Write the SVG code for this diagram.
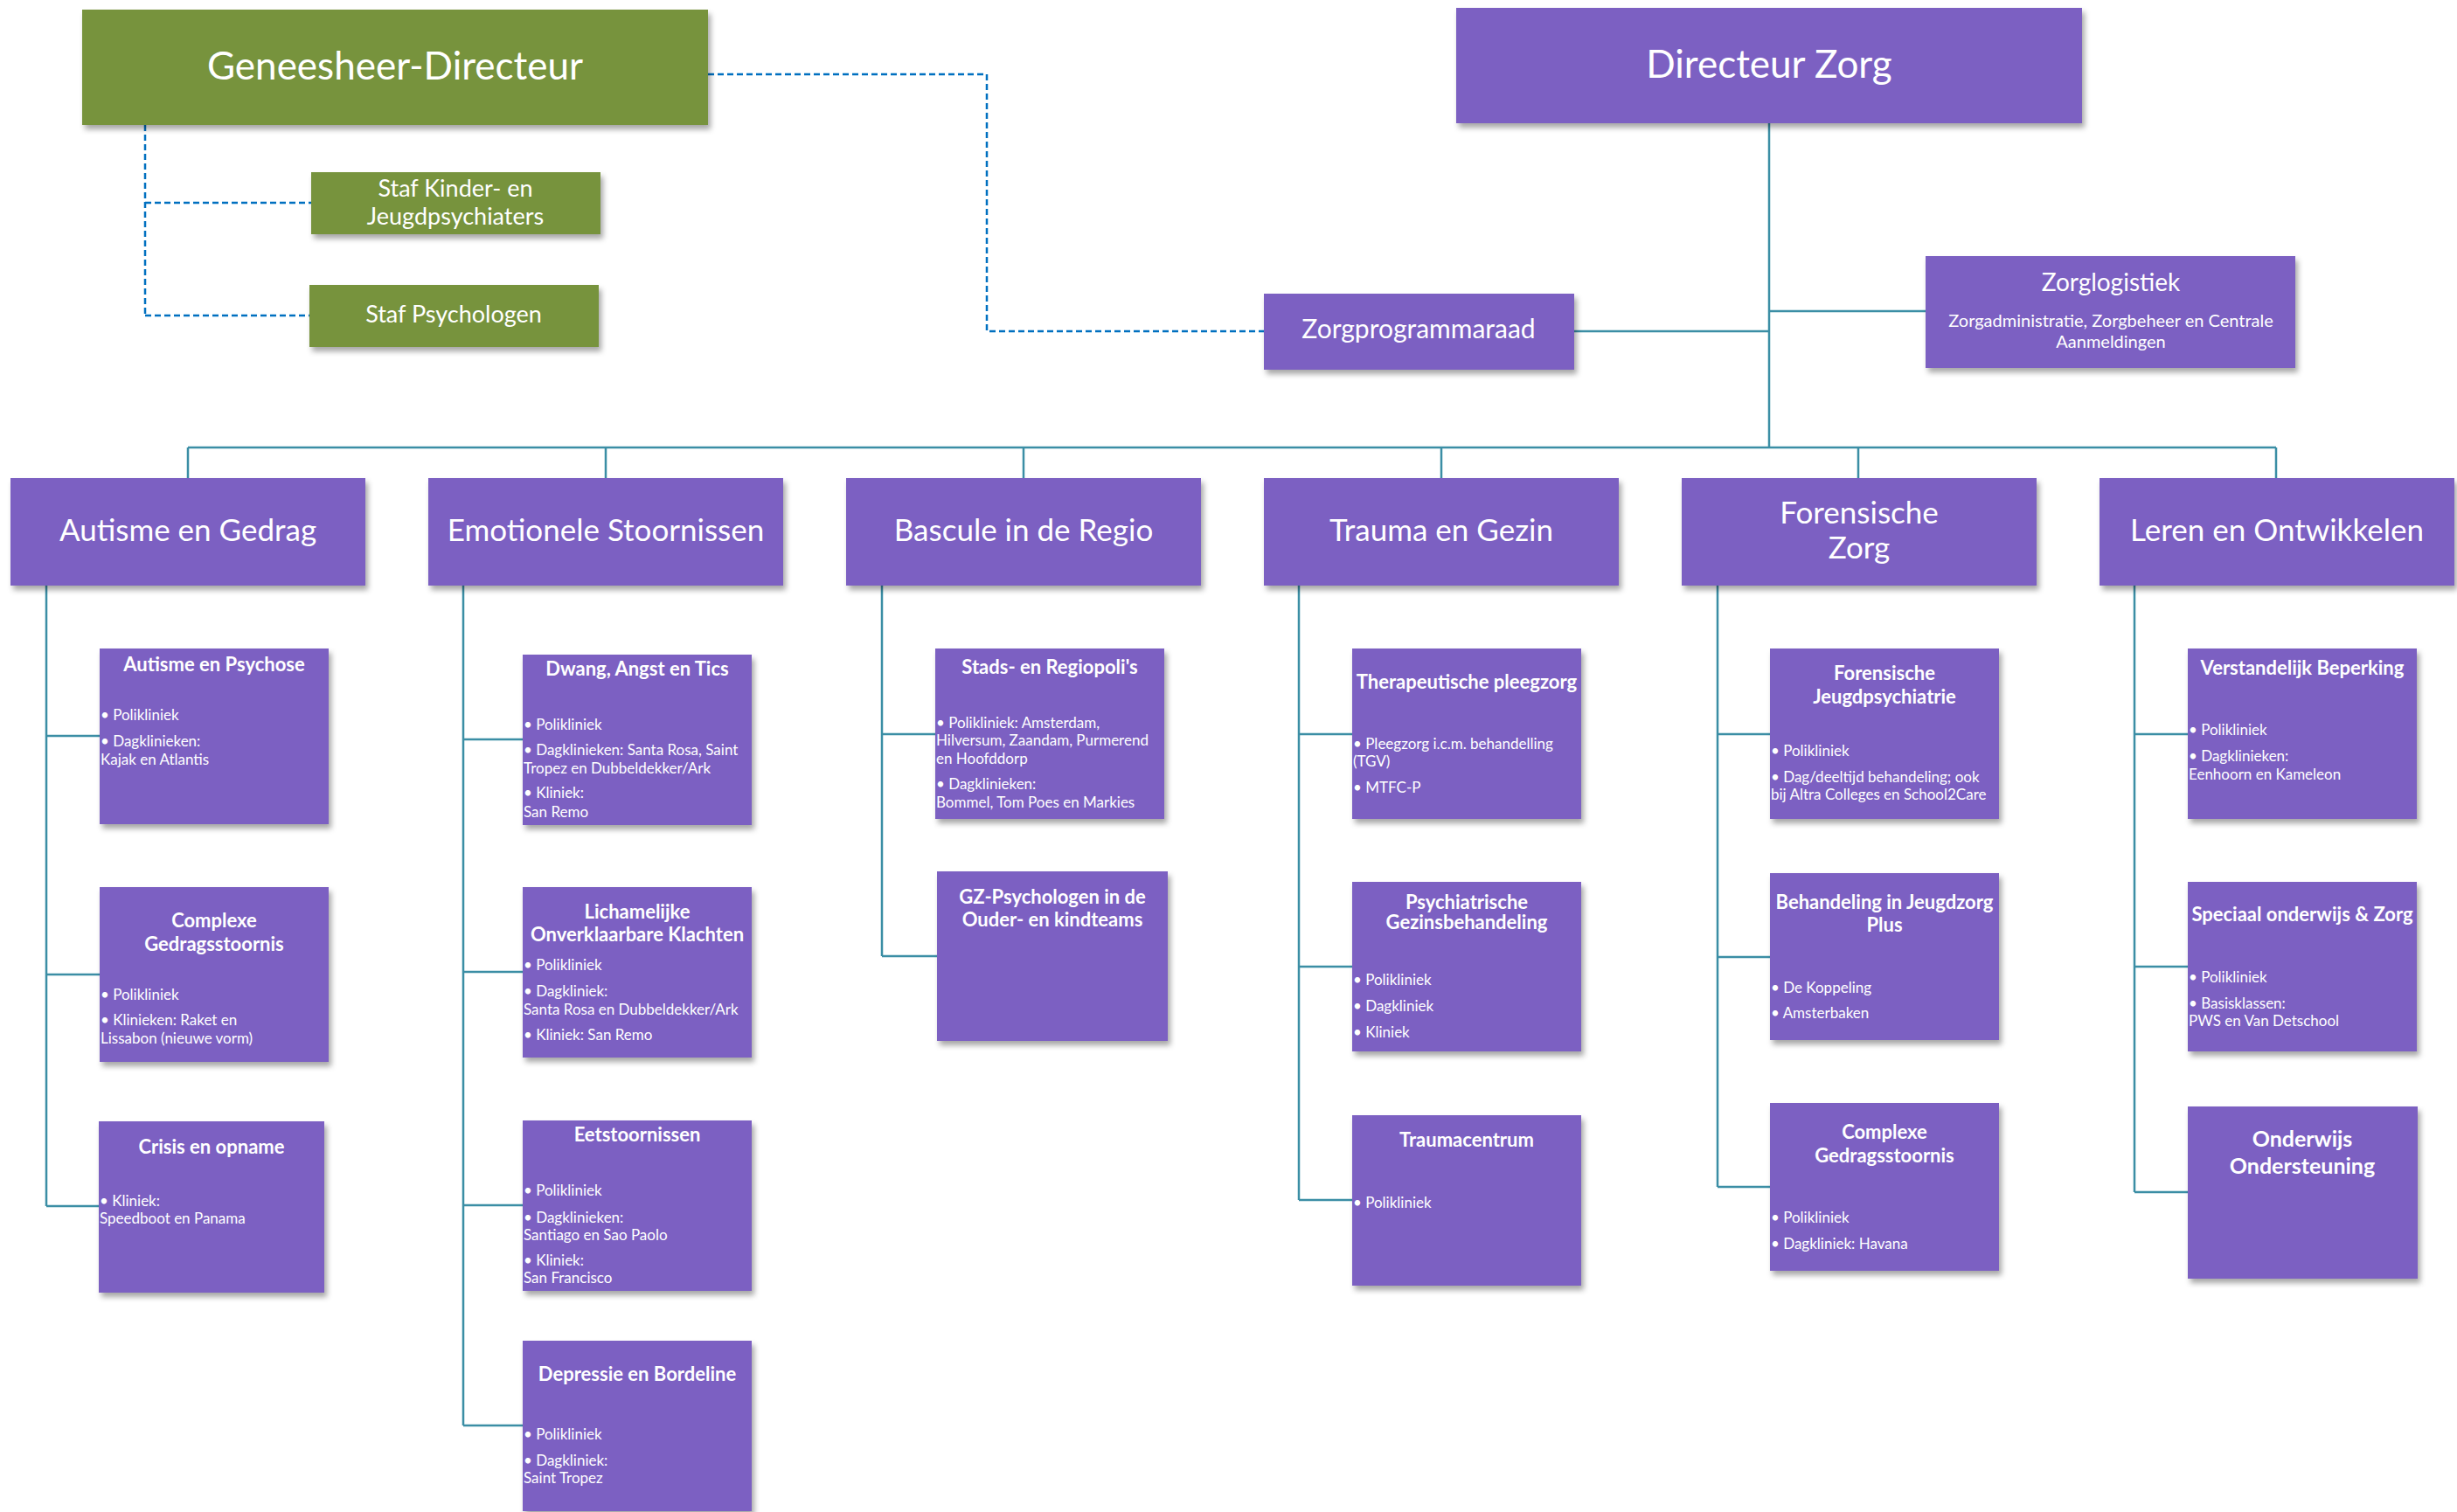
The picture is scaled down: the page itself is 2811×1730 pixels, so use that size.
<svg xmlns="http://www.w3.org/2000/svg" width="2811" height="1730" viewBox="0 0 2811 1730">
<defs>
<filter id="sh" x="-10%" y="-10%" width="125%" height="130%">
<feDropShadow dx="3" dy="5" stdDeviation="3" flood-color="#000" flood-opacity="0.35"/>
</filter>
<style>
.g{fill:#77933C;filter:url(#sh)}
.p{fill:#7B61C2;filter:url(#sh)}
text{font-family:Lato,"Open Sans","Liberation Sans",sans-serif;fill:#fff}
.c{text-anchor:middle}
.big{font-size:44px}
.staf{font-size:27px}
.mid{font-size:29px}
.small{font-size:20px}
.div{font-size:35px}
.st{font-size:22px;font-weight:bold;text-anchor:middle}
.b{font-size:17px}
.sol{stroke:#3B8EA5;stroke-width:2.5;fill:none}
.dash{stroke:#0070C0;stroke-width:2.5;fill:none;stroke-dasharray:7 4}
</style>
</defs>
<rect width="2811" height="1730" fill="#fff"/>
<g id="connectors">
<path class="dash" d="M166 143V361M166 232H356M166 361H354M810 85H1129V379H1446"/>
<path class="sol" d="M2024 141V512M1801 379H2024M2024 356H2203M215 512H2604M215 512V547M693 512V547M1171 512V547M1649 512V547M2126 512V547M2604 512V547"/>
<path class="sol" d="M53 670V1380M53 842H114M53 1115H114M53 1380H113"/>
<path class="sol" d="M530 670V1631M530 846H598M530 1112H598M530 1379H598M530 1631H598"/>
<path class="sol" d="M1009 670V1094M1009 840H1070M1009 1094H1072"/>
<path class="sol" d="M1486 670V1373M1486 840H1547M1486 1106H1547M1486 1373H1547"/>
<path class="sol" d="M1965 670V1358M1965 840H2025M1965 1095H2025M1965 1358H2025"/>
<path class="sol" d="M2442 670V1364M2442 840H2503M2442 1106H2503M2442 1364H2503"/>
</g>
<g id="geneesheer"><rect class="g" x="94" y="11" width="716" height="132"/><text class="c big" x="452" y="91">Geneesheer-Directeur</text></g>
<g id="staf-kinder"><rect class="g" x="356" y="197" width="331" height="71"/><text class="c staf" x="521" y="225">Staf Kinder- en</text><text class="c staf" x="521" y="257">Jeugdpsychiaters</text></g>
<g id="staf-psych"><rect class="g" x="354" y="326" width="331" height="71"/><text class="c staf" x="519" y="369">Staf Psychologen</text></g>
<g id="directeur-zorg"><rect class="p" x="1666" y="9" width="716" height="132"/><text class="c big" x="2024" y="89">Directeur Zorg</text></g>
<g id="zorgprogrammaraad"><rect class="p" x="1446" y="336" width="355" height="87"/><text class="c mid" x="1623" y="387" style="font-size:30px">Zorgprogrammaraad</text></g>
<g id="zorglogistiek"><rect class="p" x="2203" y="293" width="423" height="128"/><text class="c mid" x="2415" y="333" style="font-size:28px">Zorglogistiek</text><text class="c small" x="2415" y="374">Zorgadministratie, Zorgbeheer en Centrale</text><text class="c small" x="2415" y="398">Aanmeldingen</text></g>

<g id="autisme-gedrag"><rect class="p" x="12" y="547" width="406" height="123"/><text class="c div" x="215" y="619">Autisme en Gedrag</text></g>
<g id="emotionele"><rect class="p" x="490" y="547" width="406" height="123"/><text class="c div" x="693" y="619">Emotionele Stoornissen</text></g>
<g id="bascule"><rect class="p" x="968" y="547" width="406" height="123"/><text class="c div" x="1171" y="619">Bascule in de Regio</text></g>
<g id="trauma-gezin"><rect class="p" x="1446" y="547" width="406" height="123"/><text class="c div" x="1649" y="619">Trauma en Gezin</text></g>
<g id="forensische-zorg"><rect class="p" x="1924" y="547" width="406" height="123"/><text class="c div" x="2127" y="599">Forensische</text><text class="c div" x="2127" y="639">Zorg</text></g>
<g id="leren"><rect class="p" x="2402" y="547" width="406" height="123"/><text class="c div" x="2605" y="619">Leren en Ontwikkelen</text></g>

<g id="autisme-psychose"><rect class="p" x="114" y="742" width="262" height="201"/><text class="st" x="245" y="768">Autisme en Psychose</text><text class="b" x="115" y="824">• Polikliniek</text><text class="b" x="115" y="854">• Dagklinieken:</text><text class="b" x="115" y="875">Kajak en Atlantis</text></g>
<g id="complexe-1"><rect class="p" x="114" y="1015" width="262" height="200"/><text class="st" x="245" y="1061">Complexe</text><text class="st" x="245" y="1088">Gedragsstoornis</text><text class="b" x="115" y="1144">• Polikliniek</text><text class="b" x="115" y="1173">• Klinieken:  Raket en</text><text class="b" x="115" y="1194">Lissabon (nieuwe vorm)</text></g>
<g id="crisis"><rect class="p" x="113" y="1283" width="258" height="196"/><text class="st" x="242" y="1320">Crisis en opname</text><text class="b" x="114" y="1380">• Kliniek:</text><text class="b" x="114" y="1400">Speedboot en Panama</text></g>

<g id="dwang"><rect class="p" x="598" y="749" width="262" height="195"/><text class="st" x="729" y="773">Dwang, Angst en Tics</text><text class="b" x="599" y="835">• Polikliniek</text><text class="b" x="599" y="864">• Dagklinieken: Santa Rosa, Saint</text><text class="b" x="599" y="885">Tropez en  Dubbeldekker/Ark</text><text class="b" x="599" y="913">• Kliniek:</text><text class="b" x="599" y="935">San Remo</text></g>
<g id="lichamelijke"><rect class="p" x="598" y="1015" width="262" height="195"/><text class="st" x="729" y="1051">Lichamelijke</text><text class="st" x="729" y="1077">Onverklaarbare Klachten</text><text class="b" x="599" y="1110">• Polikliniek</text><text class="b" x="599" y="1140">• Dagkliniek:</text><text class="b" x="599" y="1161">Santa Rosa en Dubbeldekker/Ark</text><text class="b" x="599" y="1190">• Kliniek: San Remo</text></g>
<g id="eetstoornissen"><rect class="p" x="598" y="1282" width="262" height="195"/><text class="st" x="729" y="1306">Eetstoornissen</text><text class="b" x="599" y="1368">•  Polikliniek</text><text class="b" x="599" y="1399">•  Dagklinieken:</text><text class="b" x="599" y="1419">Santiago en Sao Paolo</text><text class="b" x="599" y="1448">•  Kliniek:</text><text class="b" x="599" y="1468">San Francisco</text></g>
<g id="depressie"><rect class="p" x="598" y="1534" width="262" height="195"/><text class="st" x="729" y="1580">Depressie en Bordeline</text><text class="b" x="599" y="1647">• Polikliniek</text><text class="b" x="599" y="1677">• Dagkliniek:</text><text class="b" x="599" y="1697">Saint Tropez</text></g>

<g id="stads"><rect class="p" x="1070" y="742" width="262" height="195"/><text class="st" x="1201" y="771">Stads- en Regiopoli's</text><text class="b" x="1071" y="833">• Polikliniek: Amsterdam,</text><text class="b" x="1071" y="853">Hilversum, Zaandam, Purmerend</text><text class="b" x="1071" y="874">en Hoofddorp</text><text class="b" x="1071" y="903">• Dagklinieken:</text><text class="b" x="1071" y="924">Bommel, Tom Poes en Markies</text></g>
<g id="gz-psychologen"><rect class="p" x="1072" y="997" width="264" height="194"/><text class="st" x="1204" y="1034">GZ-Psychologen in de</text><text class="st" x="1204" y="1060">Ouder- en kindteams</text></g>

<g id="therapeutische"><rect class="p" x="1547" y="742" width="262" height="195"/><text class="st" x="1678" y="788">Therapeutische pleegzorg</text><text class="b" x="1548" y="857">• Pleegzorg i.c.m. behandelling</text><text class="b" x="1548" y="877">(TGV)</text><text class="b" x="1548" y="907">• MTFC-P</text></g>
<g id="psychiatrische"><rect class="p" x="1547" y="1009" width="262" height="194"/><text class="st" x="1678" y="1040">Psychiatrische</text><text class="st" x="1678" y="1063">Gezinsbehandeling</text><text class="b" x="1548" y="1127">• Polikliniek</text><text class="b" x="1548" y="1157">• Dagkliniek</text><text class="b" x="1548" y="1187">• Kliniek</text></g>
<g id="traumacentrum"><rect class="p" x="1547" y="1276" width="262" height="195"/><text class="st" x="1678" y="1312">Traumacentrum</text><text class="b" x="1548" y="1382">• Polikliniek</text></g>

<g id="forensische-jeugd"><rect class="p" x="2025" y="742" width="262" height="195"/><text class="st" x="2156" y="778">Forensische</text><text class="st" x="2156" y="805">Jeugdpsychiatrie</text><text class="b" x="2026" y="865">• Polikliniek</text><text class="b" x="2026" y="895">• Dag/deeltijd  behandeling; ook</text><text class="b" x="2026" y="915">bij Altra Colleges en School2Care</text></g>
<g id="jeugdzorg-plus"><rect class="p" x="2025" y="999" width="262" height="191"/><text class="st" x="2156" y="1040">Behandeling in Jeugdzorg</text><text class="st" x="2156" y="1066">Plus</text><text class="b" x="2026" y="1136">• De Koppeling</text><text class="b" x="2026" y="1165">• Amsterbaken</text></g>
<g id="complexe-2"><rect class="p" x="2025" y="1262" width="262" height="192"/><text class="st" x="2156" y="1303">Complexe</text><text class="st" x="2156" y="1330">Gedragsstoornis</text><text class="b" x="2026" y="1399">• Polikliniek</text><text class="b" x="2026" y="1429">• Dagkliniek: Havana</text></g>

<g id="verstandelijk"><rect class="p" x="2503" y="742" width="262" height="195"/><text class="st" x="2634" y="772">Verstandelijk Beperking</text><text class="b" x="2504" y="841">• Polikliniek</text><text class="b" x="2504" y="871">• Dagklinieken:</text><text class="b" x="2504" y="892">Eenhoorn en Kameleon</text></g>
<g id="speciaal"><rect class="p" x="2503" y="1009" width="262" height="194"/><text class="st" x="2634" y="1054">Speciaal onderwijs &amp; Zorg</text><text class="b" x="2504" y="1124">• Polikliniek</text><text class="b" x="2504" y="1154">• Basisklassen:</text><text class="b" x="2504" y="1174">PWS en Van Detschool</text></g>
<g id="onderwijs"><rect class="p" x="2503" y="1266" width="263" height="197"/><text class="st" x="2634" y="1312" style="font-size:25px">Onderwijs</text><text class="st" x="2634" y="1343" style="font-size:25px">Ondersteuning</text></g>
</svg>
